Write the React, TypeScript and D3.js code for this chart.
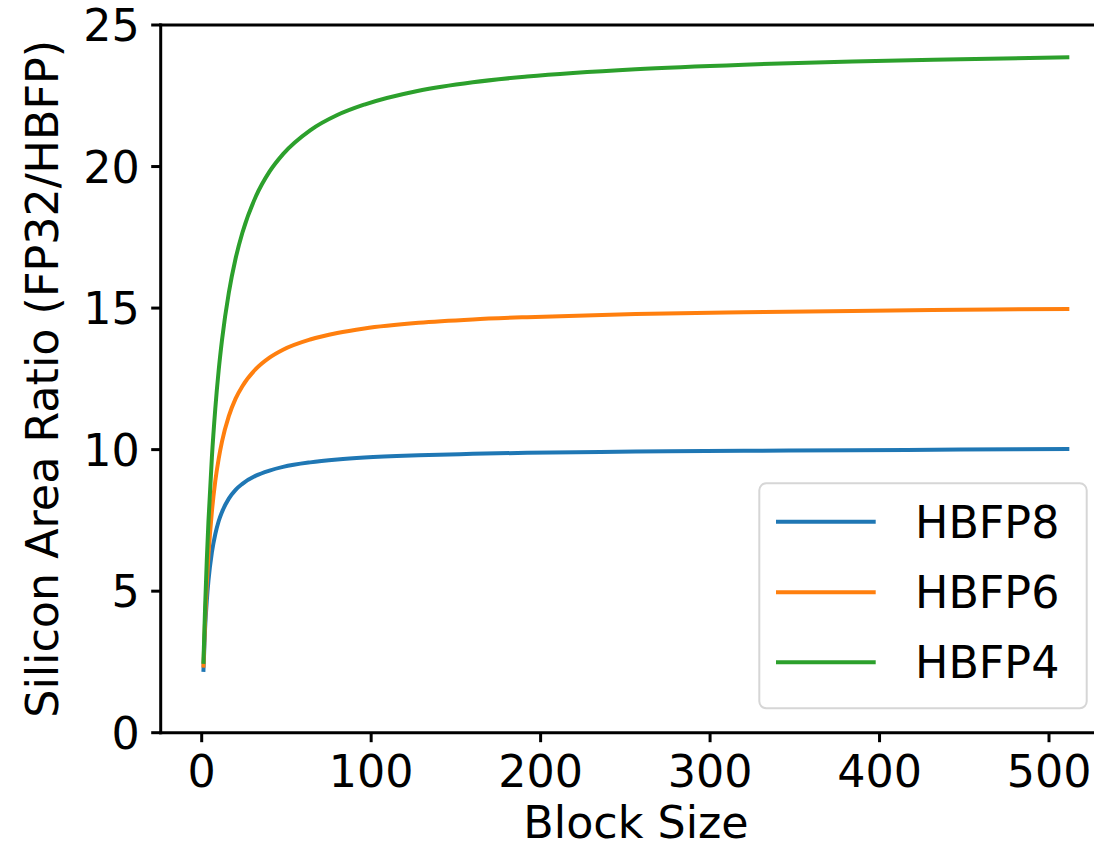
import React from "react";
import * as d3 from "d3";

// Block sizes at which the area ratio is sampled
const blockSizes = [1, 2, 3, 4, 6, 8, 10, 12, 16, 20, 24, 32, 40, 48, 64, 80, 96, 128, 160, 192, 256, 320, 384, 448, 512];

// Silicon area ratio FP32 / HBFP for each format
const hbfp8 = [2.15, 3.67, 4.66, 5.38, 6.37, 7.01, 7.47, 7.8, 8.27, 8.58, 8.79, 9.08, 9.26, 9.39, 9.55, 9.65, 9.72, 9.8, 9.85, 9.89, 9.93, 9.96, 9.98, 10.0, 10.02];
const hbfp6 = [2.3, 3.97, 5.26, 6.28, 7.8, 8.88, 9.67, 10.29, 11.18, 11.8, 12.24, 12.85, 13.25, 13.53, 13.89, 14.12, 14.28, 14.48, 14.6, 14.68, 14.79, 14.85, 14.9, 14.94, 14.97];
const hbfp4 = [2.43, 4.42, 6.08, 7.48, 9.72, 11.43, 12.79, 13.88, 15.54, 16.75, 17.66, 18.95, 19.82, 20.44, 21.28, 21.82, 22.19, 22.68, 22.98, 23.18, 23.44, 23.6, 23.71, 23.79, 23.86];

const seriesNames = ["HBFP8", "HBFP6", "HBFP4"];
const seriesValues = [hbfp8, hbfp6, hbfp4];
const seriesColors = ["#1f77b4", "#ff7f0e", "#2ca02c"];

const xTicks = [0, 100, 200, 300, 400, 500];
const yTicks = [0, 5, 10, 15, 20, 25];

const W = 1094;
const H = 849;
const FONT = "DejaVu Sans, sans-serif";
const FS = 44.4;

export default function App() {
  const left = 160.7;
  const top = 25;
  const bottom = 732.7;

  const xMin = 1 - 0.05 * 511;
  const xMax = 512 + 0.05 * 511;
  // x = 0 at 201.7 px, 500 at 1049 px
  const pxPerUnit = (1049 - 201.7) / 500;
  const x = d3
    .scaleLinear()
    .domain([xMin, xMax])
    .range([201.7 + xMin * pxPerUnit, 201.7 + xMax * pxPerUnit]);
  const y = d3.scaleLinear().domain([0, 25]).range([bottom, top]);

  const line = d3
    .line<number>()
    .x((_, i) => x(blockSizes[i]))
    .y((d) => y(d))
    .curve(d3.curveMonotoneX);

  const right = x(xMax);

  const legend = { x: 759.3, y: 483.3, w: 327.4, h: 225, rowY: [521.7, 592.3, 662.3] };

  return (
    <svg
      width={W}
      height={H}
      style={{ position: "absolute", left: 0, top: 0, background: "#fff" }}
      fontFamily={FONT}
    >
      <rect x={0} y={0} width={W} height={H} fill="#fff" />
      <defs>
        <clipPath id="plot">
          <rect x={left} y={top} width={right - left} height={bottom - top} />
        </clipPath>
      </defs>

      {/* series */}
      <g clipPath="url(#plot)">
        {seriesValues.map((vals, i) => (
          <path
            key={seriesNames[i]}
            d={line(vals) ?? ""}
            fill="none"
            stroke={seriesColors[i]}
            strokeWidth={4}
            strokeLinejoin="round"
          />
        ))}
      </g>

      {/* spines */}
      <g stroke="#000" strokeWidth={3} fill="none">
        <line x1={left} y1={top} x2={left} y2={bottom} strokeLinecap="square" />
        <line x1={left} y1={bottom} x2={right} y2={bottom} strokeLinecap="square" />
        <line x1={left} y1={top} x2={right} y2={top} strokeLinecap="square" />
        <line x1={right} y1={top} x2={right} y2={bottom} />
      </g>

      {/* x axis */}
      <g>
        {xTicks.map((t) => (
          <g key={t} transform={`translate(${x(t)},${bottom})`}>
            <line y1={0} y2={9.5} stroke="#000" strokeWidth={3} />
            <text y={54} textAnchor="middle" fontSize={FS} fill="#000">
              {t}
            </text>
          </g>
        ))}
        <text x={636} y={838} textAnchor="middle" fontSize={FS} fill="#000">
          Block Size
        </text>
      </g>

      {/* y axis */}
      <g>
        {yTicks.map((t) => (
          <g key={t} transform={`translate(${left},${y(t)})`}>
            <line x1={0} x2={-9.5} stroke="#000" strokeWidth={3} />
            <text x={-21} dy="0.36em" textAnchor="end" fontSize={FS} fill="#000">
              {t}
            </text>
          </g>
        ))}
        <text
          transform={`translate(58,${(top + bottom) / 2}) rotate(-90)`}
          textAnchor="middle"
          fontSize={FS}
          fill="#000"
        >
          Silicon Area Ratio (FP32/HBFP)
        </text>
      </g>

      {/* legend */}
      <g>
        <rect
          x={legend.x}
          y={legend.y}
          width={legend.w}
          height={legend.h}
          rx={7}
          fill="#fff"
          fillOpacity={0.8}
          stroke="#d6d6d6"
          strokeWidth={2}
        />
        {seriesNames.map((name, i) => (
          <g key={name}>
            <line
              x1={776}
              x2={875.7}
              y1={legend.rowY[i]}
              y2={legend.rowY[i]}
              stroke={seriesColors[i]}
              strokeWidth={4}
            />
            <text x={915} y={legend.rowY[i]} dy="0.36em" fontSize={FS} fill="#000">
              {name}
            </text>
          </g>
        ))}
      </g>
    </svg>
  );
}
